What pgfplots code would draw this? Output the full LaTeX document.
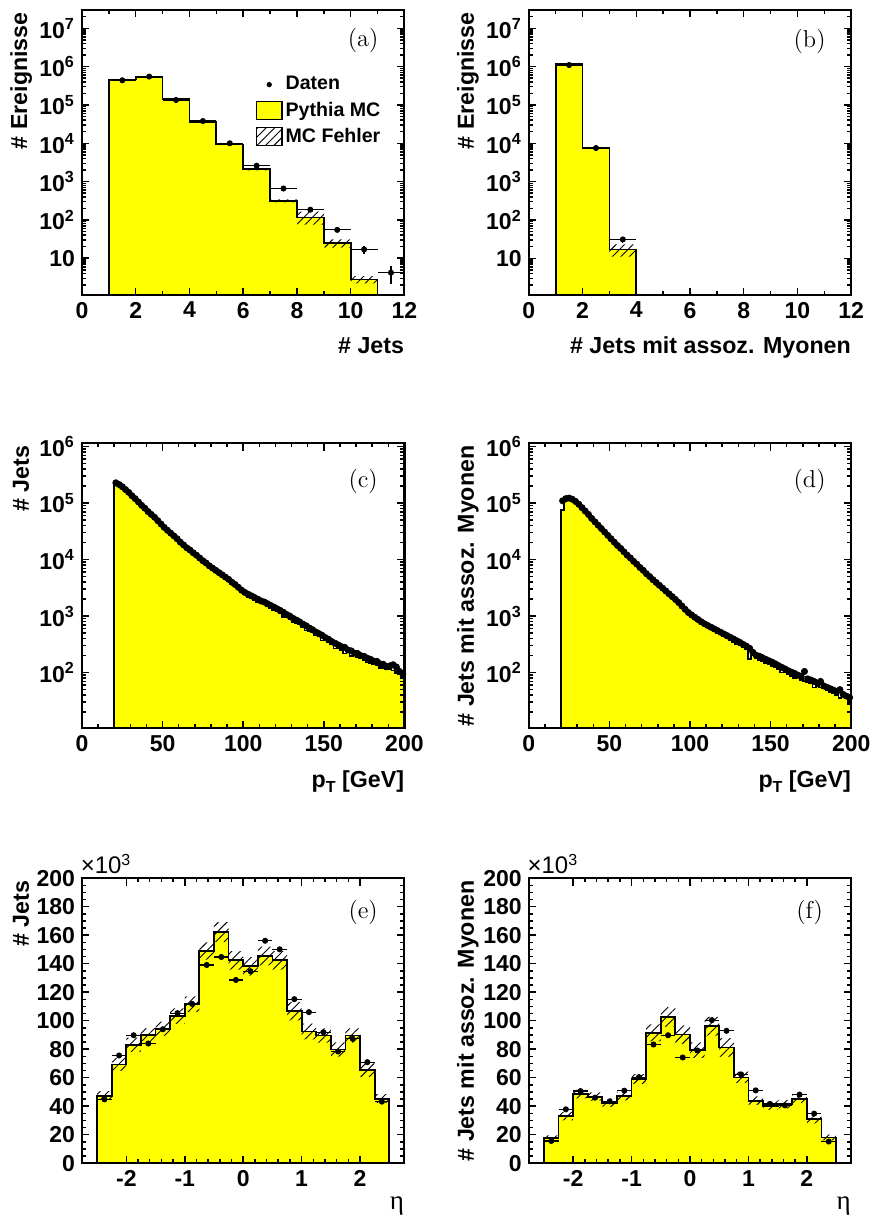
\documentclass[border=0pt]{standalone}
\usepackage{fontspec}
\usepackage{pgfplots}
\usepackage{pgfplotstable}
\pgfplotsset{compat=1.18}
\usetikzlibrary{patterns.meta}
\newfontfamily\lsans{Liberation Sans}
\newfontfamily\lserif{Liberation Serif}
\newcommand\tickfont{\fontsize{11.5}{13}\selectfont\lsans\bfseries}
\newcommand\labfont{\fontsize{11.6}{13}\selectfont\lsans\bfseries}
\newcommand\legfont{\fontsize{9.8}{11}\selectfont\lsans\bfseries}
\newcommand\panfont{\fontsize{12.2}{14}\selectfont\rmfamily}
\definecolor{histyellow}{RGB}{255,255,0}
\tikzset{hatch/.style={pattern={Lines[angle=45,distance=3pt,line width=0.45pt]}, pattern color=black}}
\pgfplotsset{/pgf/number format/assume math mode=true}
\pgfplotsset{
  boxleg/.style={legend image code/.code={\draw[##1] (0pt,-4.5pt) rectangle (12.8pt,4.5pt);}},
  dotleg/.style={legend image code/.code={\path[draw=none,fill=none,pattern=none] (0pt,-4.5pt) rectangle (12.8pt,4.5pt); \draw[##1] plot coordinates {(6.4pt,0pt)};}},
}

% ---------------- data ----------------
\pgfplotstableread{
x mc lo hi
1 0.5 0.5 0.5
1 460000 450000 470000
2 530000 520000 540000
3 146000 143000 149000
4 36000 35000 37000
5 9300 8900 9700
6 2100 1950 2250
7 315 285 345
8 115 75 165
9 25 19 31
10 2.8 2.2 3.4
11 0.5 0.5 0.5
}\histA
\pgfplotstableread{
x y ex ey
1.5 440000 0.5 663
2.5 550000 0.5 742
3.5 135000 0.5 367
4.5 38000 0.5 195
5.5 10000 0.5 100
6.5 2600 0.5 51
7.5 660 0.5 26
8.5 185 0.5 14
9.5 55 0.5 7.4
10.5 17 0.5 4.1
11.5 4.2 0.5 2.1
}\dataA
\pgfplotstableread{
x mc lo hi
1 0.5 0.5 0.5
1 1170000 1130000 1210000
2 7500 7100 7900
3 17 11 23
4 0.5 0.5 0.5
}\histB
\pgfplotstableread{
x y ex ey
1.5 1100000 0.5 1049
2.5 7500 0.5 87
3.5 31 0.5 5.6
}\dataB
\pgfplotstableread{
x mc
20 1
20 222000
22 208000
24 190000
26 169000
28 150000
30 131000
32 116000
34 102000
36 88500
38 78900
40 68700
42 61200
44 54500
46 47500
48 41400
50 36100
52 32100
54 28600
56 25500
58 22700
60 19600
62 17300
64 15400
66 14100
68 12500
70 11400
72 10200
74 9070
76 8270
78 7370
80 6730
82 6140
84 5600
86 5100
88 4650
90 4250
92 3780
94 3450
96 3080
98 2740
100 2450
102 2150
104 2100
106 1950
108 1800
110 1680
112 1600
114 1480
116 1390
118 1300
120 1210
122 1130
124 970
126 980
128 900
130 780
132 760
134 710
136 645
138 560
140 550
142 510
144 465
146 435
148 370
150 372
152 345
154 315
156 268
158 275
160 250
162 220
164 230
166 195
168 200
170 190
172 180
174 168
176 152
178 150
180 142
182 136
184 120
186 122
188 113
190 115
192 110
194 98
196 92
198 82
200 82
}\histC
\pgfplotstableread{
x y
21 229000
23 214000
25 195000
27 174000
29 155000
31 135000
33 120000
35 105000
37 91200
39 81300
41 70800
43 63100
45 56200
47 49000
49 42700
51 37200
53 33100
55 29500
57 26300
59 23400
61 20400
63 18200
65 16200
67 14800
69 13200
71 12000
73 10700
75 9550
77 8710
79 7760
81 7080
83 6460
85 5890
87 5370
89 4900
91 4470
93 3980
95 3630
97 3240
99 2880
101 2630
103 2450
105 2290
107 2140
109 2000
111 1860
113 1780
115 1660
117 1550
119 1450
121 1350
123 1260
125 1170
127 1070
129 1000
131 912
133 851
135 794
137 724
139 676
141 617
143 575
145 525
147 490
149 457
151 417
153 389
155 355
157 331
159 309
161 288
163 280
165 252
167 243
169 222
171 218
173 200
175 194
177 180
179 172
181 160
183 158
185 143
187 140
189 128
191 132
193 138
195 126
197 105
199 95
}\dataC
\pgfplotstableread{
x mc
20 1
20 76000
22 113000
24 118000
26 113000
28 103000
30 92000
32 80000
34 69800
36 60800
38 51700
40 45000
42 39200
44 34200
46 29700
48 25900
50 22500
52 19600
54 17100
56 15200
58 13200
60 11500
62 10200
64 8900
66 7950
68 6900
70 6150
72 5350
74 4770
76 4200
78 3740
80 3330
82 2960
84 2640
86 2350
88 2090
90 1860
92 1640
94 1420
96 1240
98 1090
100 980
102 890
104 810
106 735
108 680
110 630
112 585
114 545
116 505
118 470
120 440
122 405
124 380
126 350
128 325
130 300
132 280
134 255
136 175
138 200
140 180
142 168
144 160
146 150
148 140
150 132
152 125
154 115
156 100
158 100
160 94
162 88
164 80
166 83
168 75
170 72
172 68
174 65
176 55
178 58
180 55
182 52
184 48
186 46
188 43
190 40
192 36
194 38
196 35
198 28
200 28
}\histD
\pgfplotstableread{
x y
21 110000
23 120000
25 123000
27 117000
29 107000
31 95500
33 83200
35 72400
37 63100
39 53700
41 46800
43 40700
45 35500
47 30900
49 26900
51 23400
53 20400
55 17800
57 15800
59 13800
61 12000
63 10700
65 9330
67 8320
69 7240
71 6460
73 5620
75 5010
77 4420
79 3940
81 3510
83 3130
85 2790
87 2480
89 2210
91 1970
93 1740
95 1510
97 1320
99 1160
101 1050
103 955
105 871
107 794
109 733
111 684
113 638
115 596
117 556
119 519
121 484
123 452
125 422
127 394
129 367
131 343
133 316
135 295
137 269
139 229
141 204
143 195
145 184
147 172
149 162
151 153
153 143
155 133
157 124
159 116
161 108
163 102
165 96.6
167 90.2
169 85.1
171 105
173 77.6
175 74.1
177 70.0
179 65.3
181 70
183 58.2
185 55.0
187 51.9
189 49.0
191 46.2
193 50
195 41.2
197 38.5
199 36.3
}\dataD
\pgfplotstableread{
x mc lo hi
-2.5 0 0 0
-2.5 47.4 44.2 50.6
-2.25 69.3 64.8 73.8
-2.0 83.1 78.1 88.1
-1.75 89.8 84.8 94.8
-1.5 94.3 89.3 99.3
-1.25 103.2 97.7 108.7
-1.0 111.6 106.1 117.1
-0.75 148.9 142.9 154.9
-0.5 162.2 155.2 169.2
-0.25 142.4 135.9 148.9
0.0 138.2 131.7 144.7
0.25 145.4 138.9 151.9
0.5 142.4 135.9 148.9
0.75 106.7 100.3 113.1
1.0 92.4 86.9 97.9
1.25 89.6 84.6 94.6
1.5 79.8 74.8 84.8
1.75 89.6 84.6 94.6
2.0 65.3 60.6 70.0
2.25 45.3 42.1 48.5
2.5 0 0 0
}\histE
\pgfplotstableread{
x y ex
-2.375 44.8 0.125
-2.125 75.6 0.125
-1.875 89.8 0.125
-1.625 84.0 0.125
-1.375 94.0 0.125
-1.125 105.3 0.125
-0.875 111.8 0.125
-0.625 139.1 0.125
-0.375 144.7 0.125
-0.125 128.6 0.125
0.125 134.7 0.125
0.375 156.1 0.125
0.625 150.1 0.125
0.875 115.1 0.125
1.125 106.0 0.125
1.375 91.9 0.125
1.625 78.4 0.125
1.875 87.3 0.125
2.125 70.9 0.125
2.375 43.2 0.125
}\dataE
\pgfplotstableread{
x mc lo hi
-2.5 0 0 0
-2.5 17.5 15.5 19.5
-2.25 33.1 30.1 36.1
-2.0 48.5 45.5 51.5
-1.75 46.7 43.7 49.7
-1.5 42.5 39.5 45.5
-1.25 47.1 44.1 50.1
-1.0 59.0 55.5 62.5
-0.75 91.5 85.5 97.5
-0.5 102.7 95.7 109.7
-0.25 90.3 83.8 96.8
0.0 79.3 73.8 84.8
0.25 96.1 89.6 102.6
0.5 81.2 74.7 87.7
0.75 60.2 56.2 64.2
1.0 43.9 40.9 46.9
1.25 40.4 37.4 43.4
1.5 41.5 38.5 44.5
1.75 45.3 42.3 48.3
2.0 31.0 28.0 34.0
2.25 18.0 16.0 20.0
2.5 0 0 0
}\histF
\pgfplotstableread{
x y ex
-2.375 15.6 0.125
-2.125 37.8 0.125
-1.875 50.6 0.125
-1.625 46.0 0.125
-1.375 43.4 0.125
-1.125 50.9 0.125
-0.875 60.4 0.125
-0.625 83.3 0.125
-0.375 89.8 0.125
-0.125 74.2 0.125
0.125 79.1 0.125
0.375 100.4 0.125
0.625 92.9 0.125
0.875 62.3 0.125
1.125 51.1 0.125
1.375 41.5 0.125
1.625 40.6 0.125
1.875 48.1 0.125
2.125 34.8 0.125
2.375 15.2 0.125
}\dataF

\begin{document}
\begin{tikzpicture}
\useasboundingbox (0pt,0pt) rectangle (436pt,608.5pt);

% ---------- (a) ----------
\begin{axis}[
  scale only axis, width=161.2pt, height=142.5pt, at={(41pt,461pt)},
  axis on top, clip mode=individual,
  tick align=inside, xtick pos=both, ytick pos=both,
  major tick length=3.7pt, minor tick length=2pt,
  axis line style={line width=1.1pt},
  tick style={line width=0.75pt, black},
  tick label style={font=\tickfont},
  ylabel style={at={(rel axis cs:-0.189,1)}, rotate=0, anchor=east, inner sep=1pt, font=\labfont},
  xlabel style={at={(rel axis cs:1,0)}, anchor=base east, yshift=-29.5pt, inner sep=0pt, font=\labfont},
  ymode=log, ymin=1.1, ymax=3e7, xmin=0, xmax=12,
  xtick={0,2,4,6,8,10,12}, minor x tick num=1,
  ytick={10,100,1000,10000,100000,1000000,10000000},
  yticklabels={10,10\textsuperscript{2},10\textsuperscript{3},10\textsuperscript{4},10\textsuperscript{5},10\textsuperscript{6},10\textsuperscript{7}},
  minor ytick={2,3,4,5,6,7,8,9,20,30,40,50,60,70,80,90,200,300,400,500,600,700,800,900,2000,3000,4000,5000,6000,7000,8000,9000,2e4,3e4,4e4,5e4,6e4,7e4,8e4,9e4,2e5,3e5,4e5,5e5,6e5,7e5,8e5,9e5,2e6,3e6,4e6,5e6,6e6,7e6,8e6,9e6,2e7},
  xlabel={\# Jets}, ylabel={\# Ereignisse},
  legend cell align=left,
  legend style={at={(rel axis cs:0.538,0.779)}, anchor=north west, draw=none, fill=none,
    inner sep=0pt, row sep=1.5pt, font=\legfont, nodes={inner sep=1.5pt}}]
\addplot[ybar interval, fill=histyellow, draw=none, forget plot] table[x=x,y=mc]{\histA};
\addplot[ybar interval, hatch, draw=none, forget plot] table[x=x,y=hi]{\histA};
\addplot[ybar interval, fill=histyellow, draw=none, forget plot] table[x=x,y=lo]{\histA};
\addplot[const plot, black, line width=0.9pt, forget plot] table[x=x,y=mc]{\histA};
\addplot[only marks, mark=*, mark size=1.3pt, black, forget plot,
  error bars/.cd, x dir=both, x explicit, y dir=both, y explicit,
  error bar style={line width=0.6pt, black}, error mark=none]
  table[x=x, y=y, x error=ex, y error=ey]{\dataA};
\addlegendimage{dotleg, only marks, mark=*, mark size=1.1pt, black}
\addlegendentry{Daten}
\addlegendimage{boxleg, draw=black, fill=histyellow, line width=0.6pt}
\addlegendentry{Pythia MC}
\addlegendimage{boxleg, draw=black, line width=0.6pt, hatch}
\addlegendentry{MC Fehler}
\node[font=\panfont] at (rel axis cs:0.872,0.895) {(a)};
\end{axis}

% ---------- (b) ----------
\begin{axis}[
  scale only axis, width=161.2pt, height=142.5pt, at={(264.4pt,461pt)},
  axis on top, clip mode=individual,
  tick align=inside, xtick pos=both, ytick pos=both,
  major tick length=3.7pt, minor tick length=2pt,
  axis line style={line width=1.1pt},
  tick style={line width=0.75pt, black},
  tick label style={font=\tickfont},
  ylabel style={at={(rel axis cs:-0.189,1)}, rotate=0, anchor=east, inner sep=1pt, font=\labfont},
  xlabel style={at={(rel axis cs:1,0)}, anchor=base east, yshift=-29.5pt, inner sep=0pt, font=\labfont},
  ymode=log, ymin=1.1, ymax=3e7, xmin=0, xmax=12,
  xtick={0,2,4,6,8,10,12}, minor x tick num=1,
  ytick={10,100,1000,10000,100000,1000000,10000000},
  yticklabels={10,10\textsuperscript{2},10\textsuperscript{3},10\textsuperscript{4},10\textsuperscript{5},10\textsuperscript{6},10\textsuperscript{7}},
  minor ytick={2,3,4,5,6,7,8,9,20,30,40,50,60,70,80,90,200,300,400,500,600,700,800,900,2000,3000,4000,5000,6000,7000,8000,9000,2e4,3e4,4e4,5e4,6e4,7e4,8e4,9e4,2e5,3e5,4e5,5e5,6e5,7e5,8e5,9e5,2e6,3e6,4e6,5e6,6e6,7e6,8e6,9e6,2e7},
  xlabel={\# Jets mit assoz. Myonen}, ylabel={\# Ereignisse}]
\addplot[ybar interval, fill=histyellow, draw=none, forget plot] table[x=x,y=mc]{\histB};
\addplot[ybar interval, hatch, draw=none, forget plot] table[x=x,y=hi]{\histB};
\addplot[ybar interval, fill=histyellow, draw=none, forget plot] table[x=x,y=lo]{\histB};
\addplot[const plot, black, line width=0.9pt, forget plot] table[x=x,y=mc]{\histB};
\addplot[only marks, mark=*, mark size=1.3pt, black, forget plot,
  error bars/.cd, x dir=both, x explicit, y dir=both, y explicit,
  error bar style={line width=0.6pt, black}, error mark=none]
  table[x=x, y=y, x error=ex, y error=ey]{\dataB};
\node[font=\panfont] at (rel axis cs:0.871,0.889) {(b)};
\end{axis}

% ---------- (c) ----------
\begin{axis}[
  scale only axis, width=161.2pt, height=142.5pt, at={(41pt,244.4pt)},
  axis on top, clip mode=individual,
  tick align=inside, xtick pos=both, ytick pos=both,
  major tick length=3.7pt, minor tick length=2pt,
  axis line style={line width=1.1pt},
  tick style={line width=0.75pt, black},
  tick label style={font=\tickfont},
  ylabel style={at={(rel axis cs:-0.189,1)}, rotate=0, anchor=east, inner sep=1pt, font=\labfont},
  xlabel style={at={(rel axis cs:1,0)}, anchor=base east, yshift=-29.5pt, inner sep=0pt, font=\labfont},
  ymode=log, ymin=10.4, ymax=1.15e6, xmin=0, xmax=200,
  xtick={0,50,100,150,200}, minor x tick num=4,
  ytick={100,1000,10000,100000,1000000},
  yticklabels={10\textsuperscript{2},10\textsuperscript{3},10\textsuperscript{4},10\textsuperscript{5},10\textsuperscript{6}},
  minor ytick={20,30,40,50,60,70,80,90,200,300,400,500,600,700,800,900,2000,3000,4000,5000,6000,7000,8000,9000,2e4,3e4,4e4,5e4,6e4,7e4,8e4,9e4,2e5,3e5,4e5,5e5,6e5,7e5,8e5,9e5},
  xlabel={p\raisebox{-0.45ex}{\fontsize{8}{9}\selectfont T} [GeV]}, ylabel={\# Jets}]
\addplot[ybar interval, fill=histyellow, draw=none, forget plot] table[x=x,y=mc]{\histC};
\addplot[const plot, black, line width=0.8pt, forget plot] table[x=x,y=mc]{\histC};
\addplot[only marks, mark=*, mark size=1.55pt, black, forget plot] table[x=x,y=y]{\dataC};
\node[font=\panfont] at (rel axis cs:0.872,0.865) {(c)};
\end{axis}

% ---------- (d) ----------
\begin{axis}[
  scale only axis, width=161.2pt, height=142.5pt, at={(264.4pt,244.4pt)},
  axis on top, clip mode=individual,
  tick align=inside, xtick pos=both, ytick pos=both,
  major tick length=3.7pt, minor tick length=2pt,
  axis line style={line width=1.1pt},
  tick style={line width=0.75pt, black},
  tick label style={font=\tickfont},
  ylabel style={at={(rel axis cs:-0.189,1)}, rotate=0, anchor=east, inner sep=1pt, font=\labfont},
  xlabel style={at={(rel axis cs:1,0)}, anchor=base east, yshift=-29.5pt, inner sep=0pt, font=\labfont},
  ymode=log, ymin=10.4, ymax=1.15e6, xmin=0, xmax=200,
  xtick={0,50,100,150,200}, minor x tick num=4,
  ytick={100,1000,10000,100000,1000000},
  yticklabels={10\textsuperscript{2},10\textsuperscript{3},10\textsuperscript{4},10\textsuperscript{5},10\textsuperscript{6}},
  minor ytick={20,30,40,50,60,70,80,90,200,300,400,500,600,700,800,900,2000,3000,4000,5000,6000,7000,8000,9000,2e4,3e4,4e4,5e4,6e4,7e4,8e4,9e4,2e5,3e5,4e5,5e5,6e5,7e5,8e5,9e5},
  xlabel={p\raisebox{-0.45ex}{\fontsize{8}{9}\selectfont T} [GeV]}, ylabel={\# Jets mit assoz. Myonen}]
\addplot[ybar interval, fill=histyellow, draw=none, forget plot] table[x=x,y=mc]{\histD};
\addplot[const plot, black, line width=0.8pt, forget plot] table[x=x,y=mc]{\histD};
\addplot[only marks, mark=*, mark size=1.55pt, black, forget plot] table[x=x,y=y]{\dataD};
\node[font=\panfont] at (rel axis cs:0.871,0.865) {(d)};
\end{axis}

% ---------- (e) ----------
\begin{axis}[
  scale only axis, width=161.2pt, height=142.5pt, at={(41pt,26.9pt)},
  axis on top, clip mode=individual,
  tick align=inside, xtick pos=both, ytick pos=both,
  major tick length=3.7pt, minor tick length=2pt,
  axis line style={line width=1.1pt},
  tick style={line width=0.75pt, black},
  tick label style={font=\tickfont},
  ylabel style={at={(rel axis cs:-0.189,1)}, rotate=0, anchor=east, inner sep=1pt, font=\labfont},
  xlabel style={at={(rel axis cs:1,0)}, anchor=east, yshift=-21.5pt, inner sep=0pt},
  ymin=0, ymax=200, xmin=-2.76, xmax=2.76,
  xtick={-2,-1,0,1,2}, xticklabels={-2,-1,0,1,2}, minor x tick num=4,
  ytick={0,20,40,60,80,100,120,140,160,180,200}, minor y tick num=3,
  xlabel={\fontsize{13.5}{15}\selectfont\lserif η}, ylabel={\# Jets}]
\addplot[ybar interval, fill=histyellow, draw=none, forget plot] table[x=x,y=mc]{\histE};
\addplot[ybar interval, hatch, draw=none, forget plot] table[x=x,y=hi]{\histE};
\addplot[ybar interval, fill=histyellow, draw=none, forget plot] table[x=x,y=lo]{\histE};
\addplot[const plot, black, line width=0.9pt, forget plot] table[x=x,y=mc]{\histE};
\addplot[only marks, mark=*, mark size=1.3pt, black, forget plot,
  error bars/.cd, x dir=both, x explicit,
  error bar style={line width=0.6pt, black}, error mark=none]
  table[x=x, y=y, x error=ex]{\dataE};
\node[font=\panfont] at (rel axis cs:0.872,0.881) {(e)};
\node[anchor=base west, inner sep=0pt, font=\fontsize{12}{13}\selectfont\lsans, yshift=2.2pt] at (rel axis cs:-0.005,1) {×10\textsuperscript{3}};
\end{axis}

% ---------- (f) ----------
\begin{axis}[
  scale only axis, width=161.2pt, height=142.5pt, at={(264.4pt,26.9pt)},
  axis on top, clip mode=individual,
  tick align=inside, xtick pos=both, ytick pos=both,
  major tick length=3.7pt, minor tick length=2pt,
  axis line style={line width=1.1pt},
  tick style={line width=0.75pt, black},
  tick label style={font=\tickfont},
  ylabel style={at={(rel axis cs:-0.189,1)}, rotate=0, anchor=east, inner sep=1pt, font=\labfont},
  xlabel style={at={(rel axis cs:1,0)}, anchor=east, yshift=-21.5pt, inner sep=0pt},
  ymin=0, ymax=200, xmin=-2.76, xmax=2.76,
  xtick={-2,-1,0,1,2}, xticklabels={-2,-1,0,1,2}, minor x tick num=4,
  ytick={0,20,40,60,80,100,120,140,160,180,200}, minor y tick num=3,
  xlabel={\fontsize{13.5}{15}\selectfont\lserif η}, ylabel={\# Jets mit assoz. Myonen}]
\addplot[ybar interval, fill=histyellow, draw=none, forget plot] table[x=x,y=mc]{\histF};
\addplot[ybar interval, hatch, draw=none, forget plot] table[x=x,y=hi]{\histF};
\addplot[ybar interval, fill=histyellow, draw=none, forget plot] table[x=x,y=lo]{\histF};
\addplot[const plot, black, line width=0.9pt, forget plot] table[x=x,y=mc]{\histF};
\addplot[only marks, mark=*, mark size=1.3pt, black, forget plot,
  error bars/.cd, x dir=both, x explicit,
  error bar style={line width=0.6pt, black}, error mark=none]
  table[x=x, y=y, x error=ex]{\dataF};
\node[font=\panfont] at (rel axis cs:0.871,0.88) {(f)};
\node[anchor=base west, inner sep=0pt, font=\fontsize{12}{13}\selectfont\lsans, yshift=2.2pt] at (rel axis cs:-0.005,1) {×10\textsuperscript{3}};
\end{axis}
\end{tikzpicture}
\end{document}
